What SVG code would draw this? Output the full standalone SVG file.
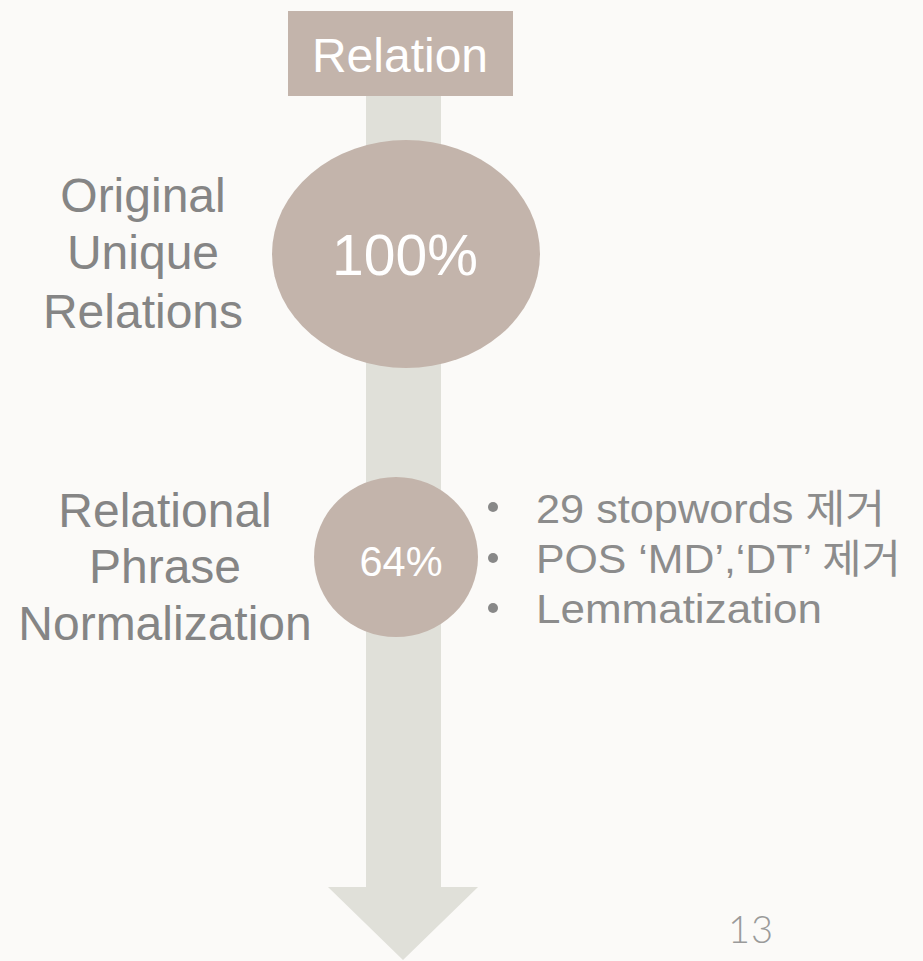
<svg xmlns="http://www.w3.org/2000/svg" width="923" height="961" viewBox="0 0 923 961">
  <style>
    .label { font-family: "Liberation Sans", Arial, sans-serif; font-size: 48px; fill: #858585; text-anchor: middle; }
    .pct { font-family: "Liberation Sans", Arial, sans-serif; fill: #ffffff; text-anchor: middle; }
    .bullet { font-family: "Liberation Sans", "Noto Sans CJK KR", sans-serif; font-size: 40px; fill: #8c8c8c; }
    .dot { fill: #888888; }
    .node { fill: #C3B4AB; }
  </style>
  <rect width="923" height="961" fill="#FBFAF8"/>

  <g id="connectors">
    <!-- flow arrow running down the page -->
    <polygon points="366,90 441,90 441,887 478,887 403,960 328,887 366,887" fill="#E0E0D9"/>
  </g>

  <g id="relation-header">
    <rect class="node" x="288" y="11" width="225" height="85"/>
    <text x="400" y="72" class="pct" font-size="48">Relation</text>
  </g>

  <g id="original-unique">
    <ellipse class="node" cx="406" cy="254" rx="134" ry="114"/>
    <text x="405" y="275" class="pct" font-size="57">100%</text>
    <text x="143" y="212" class="label">Original</text>
    <text x="143" y="269" class="label">Unique</text>
    <text x="143" y="328" class="label">Relations</text>
  </g>

  <g id="phrase-normalization">
    <ellipse class="node" cx="396" cy="557" rx="82" ry="80"/>
    <text x="401" y="576" class="pct" font-size="42" textLength="83" lengthAdjust="spacingAndGlyphs">64%</text>
    <text x="165" y="527" class="label">Relational</text>
    <text x="165" y="583" class="label">Phrase</text>
    <text x="165" y="640" class="label">Normalization</text>
    <circle class="dot" cx="493" cy="507" r="5"/>
    <circle class="dot" cx="493" cy="558" r="5"/>
    <circle class="dot" cx="493" cy="608" r="5"/>
    <text x="536" y="523" class="bullet" textLength="349" lengthAdjust="spacingAndGlyphs">29 stopwords 제거</text>
    <text x="536" y="573" class="bullet" textLength="365" lengthAdjust="spacingAndGlyphs">POS ‘MD’,‘DT’ 제거</text>
    <text x="536" y="623" class="bullet" textLength="286" lengthAdjust="spacingAndGlyphs">Lemmatization</text>
  </g>

  <text x="751" y="943" font-family="Lato, 'Open Sans', sans-serif" font-weight="300" font-size="38" fill="#9a9a9a" text-anchor="middle" letter-spacing="1">13</text>
</svg>
